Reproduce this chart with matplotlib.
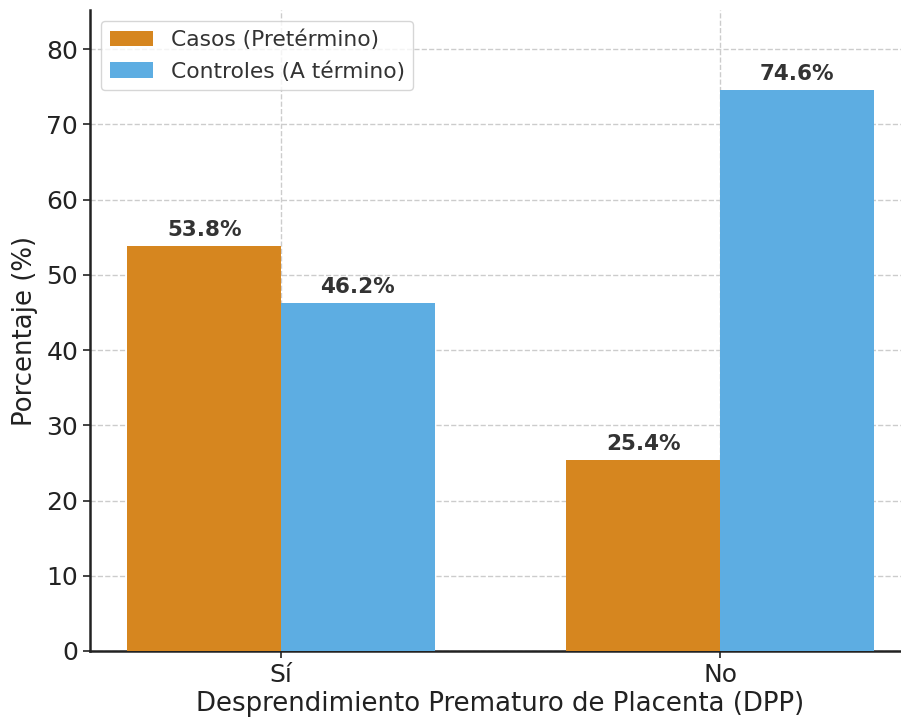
import matplotlib
matplotlib.use("Agg")
import matplotlib.pyplot as plt
import numpy as np

categories = ["Sí", "No"]
casos = [53.8, 25.4]
controles = [46.2, 74.6]
series_labels = ["Casos (Pretérmino)", "Controles (A término)"]
xlabel = "Desprendimiento Prematuro de Placenta (DPP)"
ylabel = "Porcentaje (%)"

plt.rcParams['font.family'] = ['DejaVu Sans']
fig = plt.figure(figsize=(9.01, 7.2), dpi=100)
ax = fig.add_axes([90/901, 69/720, 821/901, 641/720])

x = np.arange(len(categories))
w = 0.35
c1, c2 = "#D6861F", "#5DADE2"
b1 = ax.bar(x - w/2, casos, w, color=c1, label=series_labels[0], zorder=3)
b2 = ax.bar(x + w/2, controles, w, color=c2, label=series_labels[1], zorder=3)

for bars, vals in ((b1, casos), (b2, controles)):
    for r, v in zip(bars, vals):
        ax.text(r.get_x() + r.get_width()/2, v + 0.8, f"{v:.1f}%", ha="center", va="bottom",
                fontsize=15.5, fontweight="bold", color="#333333", zorder=4)

ax.set_xlim(-0.435, 1.435)
ax.set_ylim(0, 85.2)
ax.set_xticks(x)
ax.set_xticklabels(categories)
ax.set_yticks(range(0, 81, 10))
ax.tick_params(axis="both", labelsize=18, colors="#222222", length=5, width=1.2)
ax.set_xlabel(xlabel, fontsize=18.7, color="#222222", labelpad=3)
ax.set_ylabel(ylabel, fontsize=18.7, color="#222222", labelpad=6)
ax.grid(True, linestyle="--", color="#cccccc", linewidth=1, zorder=0)
for s in ("top", "right"):
    ax.spines[s].set_visible(False)
for s in ("left", "bottom"):
    ax.spines[s].set_linewidth(1.8)
    ax.spines[s].set_color("#222222")

leg = ax.legend(loc="upper left", fontsize=15.7, frameon=True, bbox_to_anchor=(0.0, 1.0))
leg.get_frame().set_edgecolor("#cccccc")
for t in leg.get_texts():
    t.set_color("#333333")

fig.savefig("out.png", dpi=100)
